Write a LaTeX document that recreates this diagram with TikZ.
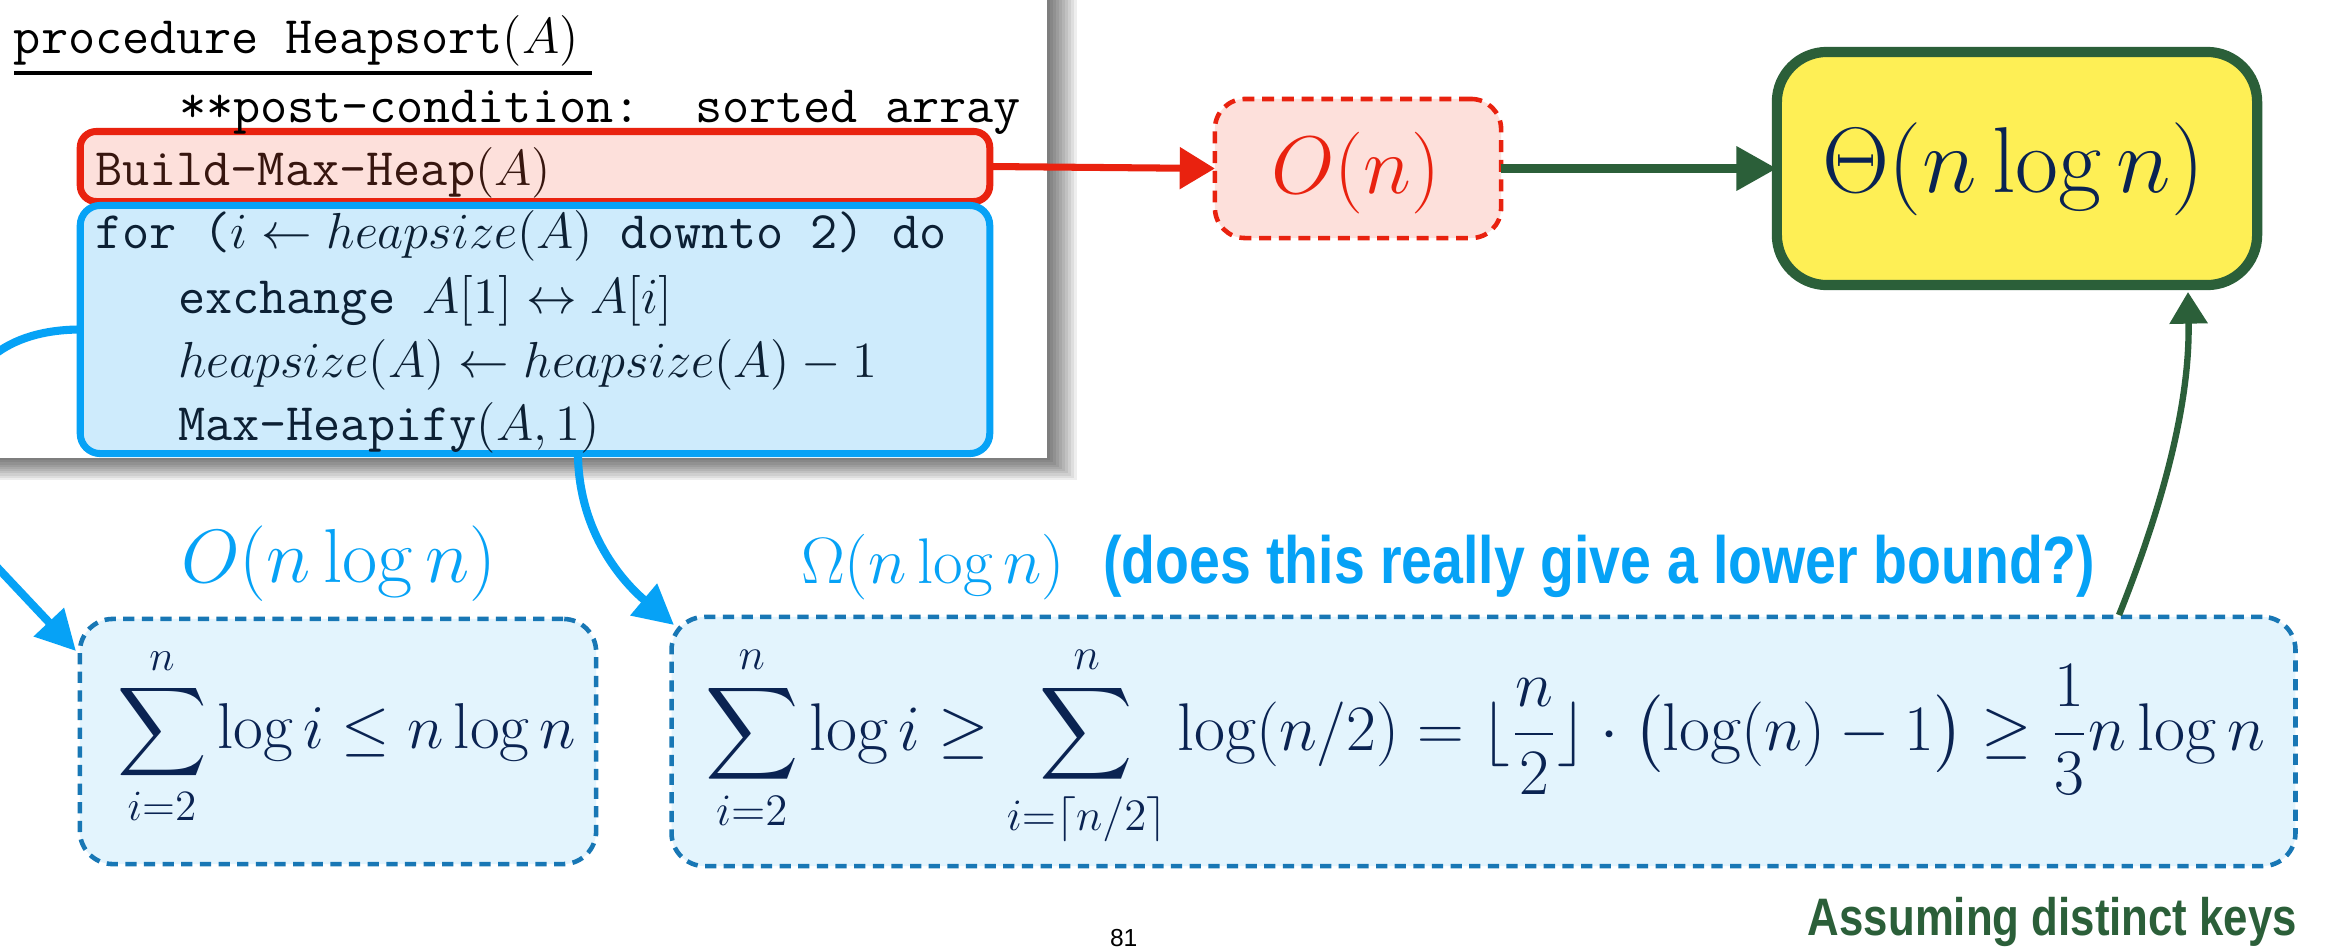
\documentclass[tikz,border=0pt]{standalone}
\usepackage{amsmath}
\usepackage{fontspec}
\usepackage{graphicx}
\usetikzlibrary{arrows.meta,calc}
\newfontfamily\condsans[FakeStretch=0.83]{Liberation Sans}
\newfontfamily\pagesans{Liberation Sans}
\newcommand{\fitto}[2]{\resizebox{#1}{!}{#2}}

\definecolor{brblue}{RGB}{6,162,246}
\definecolor{codefill}{RGB}{206,235,252}
\definecolor{dashblue}{RGB}{24,119,181}
\definecolor{palefill}{RGB}{227,244,253}
\definecolor{navy}{RGB}{10,35,82}
\definecolor{hired}{RGB}{233,34,15}
\definecolor{pinkfill}{RGB}{253,224,219}
\definecolor{hiyellow}{RGB}{254,239,85}
\definecolor{dkgreen}{RGB}{43,95,57}
\definecolor{redtext}{RGB}{55,22,15}
\definecolor{bluetext}{RGB}{12,32,52}

\begin{document}
\begin{tikzpicture}[x=0.01cm,y=-0.01cm,
  every node/.style={inner sep=0pt,outer sep=0pt},
  codetxt/.style={anchor=base west,font=\fontsize{15pt}{18pt}\selectfont\ttfamily},
  redline/.style={draw=hired,fill=pinkfill,line width=2pt,rounded corners=0.16cm},
  blueline/.style={draw=brblue,fill=codefill,line width=2pt,rounded corners=0.2cm},
  reddash/.style={draw=hired,fill=pinkfill,line width=1.3pt,dash pattern=on 3.4pt off 2.2pt,rounded corners=0.3cm},
  bluedash/.style={draw=dashblue,fill=palefill,line width=1.3pt,dash pattern=on 3.2pt off 2.1pt,rounded corners=0.33cm},
  resultbox/.style={draw=dkgreen,fill=hiyellow,line width=2.9pt,rounded corners=0.5cm},
  redarrow/.style={draw=hired,line width=2pt,-{Triangle[length=10pt,width=11.5pt]}},
  greenarrow/.style={draw=dkgreen,line width=2.6pt,-{Triangle[length=11.5pt,width=12pt]}},
  greencurve/.style={draw=dkgreen,line width=1.8pt,-{Triangle[length=9pt,width=10.5pt]}},
  bluearrow/.style={draw=brblue,line width=2.3pt,-{Triangle[length=11.3pt,width=11.3pt]}}]

\useasboundingbox (0,0) rectangle (2327,948);
\fill[white] (0,0) rectangle (2327,948);

% code panel with its soft shadow
\foreach \k in {1,...,10}
  \fill[black,opacity=0.065] (-30,-30) rectangle ({1047+3*\k},{458+2.2*\k});
\fill[white] (-30,-30) rectangle (1047,458);

% highlighted regions of the pseudocode
\node[redline,minimum width=9.09cm,minimum height=0.70cm] (build) at (535,166.5) {};
\node[blueline,minimum width=9.09cm,minimum height=2.48cm] (loop) at (535,329.5) {};

% pseudocode
\node[codetxt] (proc) at (14,53) {procedure Heapsort$(A)$};
\draw[line width=0.9pt] (14,73) -- (592,73);
\node[codetxt] (post) at (179,122) {**post-condition:\ \ sorted array};
\node[codetxt,text=redtext] (bmh) at (95,185) {Build-Max-Heap$(A)$};
\node[codetxt,text=bluetext] (forl) at (95,248) {for ($i\leftarrow heapsize(A)$ downto 2) do};
\node[codetxt,text=bluetext] (exch) at (178,313) {exchange $A[1]\leftrightarrow A[i]$};
\node[codetxt,text=bluetext] (hs) at (178,377) {$heapsize(A)\leftarrow heapsize(A)-1$};
\node[codetxt,text=bluetext] (mh) at (178,440) {Max-Heapify$(A,1)$};

% cost boxes
\node[reddash,minimum width=2.86cm,minimum height=1.39cm] (obox) at (1358,168.5) {};
\node[resultbox,minimum width=4.80cm,minimum height=2.33cm] (theta) at (2017,168.5) {};
\node[bluedash,minimum width=5.16cm,minimum height=2.45cm] (lbox) at (338,741.5) {};
\node[bluedash,minimum width=16.23cm,minimum height=2.49cm] (rbox) at (1483.5,741.5) {};

% formulas and labels
\node[anchor=base west,text=hired] (on) at (1271,193)
  {\fitto{1.69cm}{\fontsize{26pt}{30pt}\selectfont$O(n)$}};
\node[anchor=base west,text=navy] (thetatxt) at (1822,192)
  {\fitto{3.82cm}{\fontsize{25pt}{30pt}\selectfont$\Theta(n\log n)$}};
\node[anchor=base west,text=brblue] (onlogn) at (181,582)
  {\fitto{3.15cm}{\fontsize{21pt}{25pt}\selectfont$O(n\log n)$}};
\node[anchor=base west,text=brblue] (omega) at (801,583)
  {\fitto{2.64cm}{\fontsize{17pt}{20pt}\selectfont$\Omega(n\log n)$}};
\node[anchor=base west,text=brblue,font=\fontsize{19pt}{23pt}\condsans\bfseries] (quest) at (1103,583)
  {(does this really give a lower bound?)};
\node[anchor=base west,text=navy] (upper) at (117,748)
  {\fitto{4.59cm}{\fontsize{18pt}{22pt}\selectfont$\displaystyle\sum_{i=2}^{n}\log i\le n\log n$}};
\node[anchor=base west,text=navy] (lower) at (705,750)
  {\fitto{15.59cm}{\fontsize{18pt}{22pt}\selectfont$\displaystyle\sum_{i=2}^{n}\log i\ge\sum_{i=\lceil n/2\rceil}^{n}\log(n/2)=\lfloor\frac{n}{2}\rfloor\cdot\bigl(\log(n)-1\bigr)\ge\frac{1}{3}n\log n$}};
\node[anchor=base east,text=dkgreen,font=\fontsize{15pt}{18pt}\condsans\bfseries] (distinct) at (2297,935)
  {Assuming distinct keys};
\node[anchor=base west,font=\fontsize{7pt}{8pt}\pagesans] (pageno) at (1110,946) {81};

% connectors
\coordinate (loopout) at (578,457);
\coordinate (rboxin) at (674,625);
\coordinate (lboxin) at (76,651);
\coordinate (leftbend) at (-5,565);
\coordinate (rboxout) at (2119,615);
\coordinate (thetain) at (2188,292);

\draw[redarrow] (build.east) -- (obox.west);
\draw[greenarrow] (obox.east) -- (theta.west);
\draw[greencurve] (rboxout) .. controls (2165,500) and (2190,400) .. (thetain);
\draw[bluearrow] (loop.west) .. controls (-70,330) and (-70,480) .. (leftbend) -- (lboxin);
\draw[bluearrow] (loopout) .. controls (580,540) and (630,588) .. (rboxin);

\end{tikzpicture}
\end{document}
